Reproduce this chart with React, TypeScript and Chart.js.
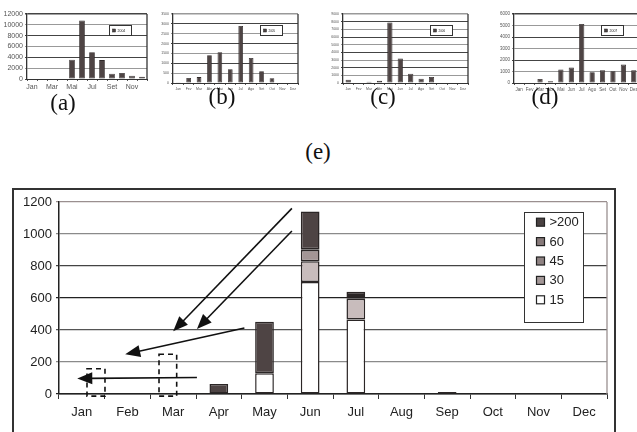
import React, { useEffect, useRef } from "react";
import { Chart, registerables } from "chart.js";
Chart.register(...registerables);

// ---------- data ----------
const MONTHS_EN = ["Jan", "Feb", "Mar", "Apr", "May", "Jun", "Jul", "Aug", "Sep", "Oct", "Nov", "Dec"];
const MONTHS_PT = ["Jan", "Fev", "Mar", "Abr", "Mai", "Jun", "Jul", "Ago", "Set", "Out", "Nov", "Dez"];

const Y2004 = [0, 0, 0, 0, 3550, 10800, 4960, 3490, 980, 1100, 610, 430];
const Y2005 = [35, 250, 300, 1410, 1560, 700, 2890, 1270, 600, 240, 0, 0];
const Y2006 = [430, 0, 170, 300, 7900, 3200, 1200, 570, 780, 0, 0, 0];
const Y2007 = [0, 0, 350, 150, 1170, 1340, 5130, 930, 1100, 1020, 1600, 1100];

const SERIES_LABELS = ["15", "30", "45", "60", ">200"];
const S15 = [0, 0, 0, 0, 130, 700, 465, 0, 0, 0, 0, 0];
const S30 = [0, 0, 0, 0, 0, 130, 130, 0, 0, 0, 0, 0];
const S45 = [0, 0, 0, 0, 0, 70, 10, 0, 0, 0, 0, 0];
const S60 = [0, 0, 0, 0, 0, 5, 14, 0, 0, 0, 0, 0];
const S200 = [0, 0, 0, 62, 322, 235, 20, 0, 12, 0, 0, 0];
const MAIN_SERIES = [S15, S30, S45, S60, S200];

// annotation arrows / dashed boxes in data units (x = month index, y = value)
const ARROWS = [
  { from: [4.6, 1160], to: [2.0, 392] },
  { from: [4.6, 1019], to: [2.52, 406] },
  { from: [3.56, 412], to: [0.95, 248] },
  { from: [2.52, 103], to: [-0.1, 97] },
];
const DASH_BOXES = [
  { x0: 0.113, x1: 0.507, y0: -13, y1: 158 },
  { x0: 1.69, x1: 2.077, y0: -13, y1: 248 },
];

// ---------- styles ----------
const SANS = "'Liberation Sans', Arial, sans-serif";
const BAR_COLORS = ["#ffffff", "#c8bcbc", "#a39595", "#8a7d7d", "#4e4444"];
const LEGEND_COLORS = ["#ffffff", "#a39797", "#8f8383", "#877a7a", "#4a4242"];
const MAIN_GRID = ["#222222", "#8a8a8a", "#555555", "#222222", "#444444", "#8a8a8a", "#9a8f8f"];

// ---------- plugins ----------
const framePlugin = {
  id: "frame",
  beforeDatasetsDraw(chart: any, _a: any, opts: any) {
    if (!opts || !opts.color) return;
    const { ctx, chartArea } = chart;
    ctx.save();
    ctx.strokeStyle = opts.color;
    ctx.lineWidth = opts.width || 1;
    ctx.beginPath();
    ctx.moveTo(chartArea.right, chartArea.top);
    ctx.lineTo(chartArea.right, chartArea.bottom);
    ctx.stroke();
    ctx.restore();
  },
};

const boxLegendPlugin = {
  id: "boxLegend",
  afterDraw(chart: any, _a: any, o: any) {
    if (!o || !o.show) return;
    const { ctx, chartArea } = chart;
    const x = Math.round(chartArea.right - o.right - o.width) + 0.5;
    const y = Math.round(chartArea.top + o.top) + 0.5;
    ctx.save();
    ctx.fillStyle = "#ffffff";
    ctx.fillRect(x, y, o.width, o.height);
    ctx.strokeStyle = o.border;
    ctx.lineWidth = o.lineWidth;
    ctx.strokeRect(x, y, o.width, o.height);
    const items = chart.data.datasets
      .map((ds: any, i: number) => ({ label: ds.label, color: o.colors ? o.colors[i] : ds.backgroundColor }))
      .reverse();
    items.forEach((it: any, i: number) => {
      const cy = y + o.firstRow + i * o.rowH;
      ctx.fillStyle = it.color;
      ctx.fillRect(x + o.swX, cy - o.sw / 2, o.sw, o.sw);
      ctx.strokeStyle = "#222";
      ctx.lineWidth = o.swLine;
      ctx.strokeRect(x + o.swX, cy - o.sw / 2, o.sw, o.sw);
      ctx.fillStyle = "#222";
      ctx.font = o.font;
      ctx.textBaseline = "middle";
      ctx.textAlign = "left";
      ctx.fillText(it.label, x + o.textX, cy + 0.5);
    });
    ctx.restore();
  },
};

const annotPlugin = {
  id: "annot",
  afterDraw(chart: any, _a: any, o: any) {
    if (!o || !o.show) return;
    const { ctx } = chart;
    const xs = chart.scales.x;
    const ys = chart.scales.y;
    const px = (v: number) => xs.getPixelForValue(v);
    const py = (v: number) => ys.getPixelForValue(v);
    ctx.save();
    ctx.strokeStyle = "#111";
    ctx.fillStyle = "#111";
    ctx.lineWidth = 1.6;
    ARROWS.forEach((a) => {
      const x0 = px(a.from[0]), y0 = py(a.from[1]);
      const x1 = px(a.to[0]), y1 = py(a.to[1]);
      const ang = Math.atan2(y1 - y0, x1 - x0);
      const L = 15, W = 6;
      const bx = x1 - L * Math.cos(ang), by = y1 - L * Math.sin(ang);
      ctx.beginPath();
      ctx.moveTo(x0, y0);
      ctx.lineTo(bx + 2 * Math.cos(ang), by + 2 * Math.sin(ang));
      ctx.stroke();
      ctx.beginPath();
      ctx.moveTo(x1, y1);
      ctx.lineTo(bx - W * Math.sin(ang), by + W * Math.cos(ang));
      ctx.lineTo(bx + W * Math.sin(ang), by - W * Math.cos(ang));
      ctx.closePath();
      ctx.fill();
    });
    ctx.setLineDash([5, 4]);
    ctx.lineWidth = 1.6;
    DASH_BOXES.forEach((b) => {
      const x0 = px(b.x0), x1 = px(b.x1), y0 = py(b.y0), y1 = py(b.y1);
      ctx.strokeRect(x0, y1, x1 - x0, y0 - y1);
    });
    ctx.restore();
  },
};

// ---------- chart hook ----------
function useChart(ref: React.RefObject<HTMLCanvasElement>, make: () => any) {
  useEffect(() => {
    if (!ref.current) return;
    const chart = new Chart(ref.current, make());
    return () => chart.destroy();
  }, []);
}

type SmallProps = {
  left: number; top: number; w: number; h: number;
  yW: number; padTop: number; padRight: number; xH: number;
  data: number[]; labels: string[]; max: number; step: number;
  yFont: number; xFont: number; legendText: string; everyOther?: boolean;
  barPct: number; legFont: number;
};

function SmallChart(p: SmallProps) {
  const ref = useRef<HTMLCanvasElement>(null);
  useChart(ref, () => ({
    type: "bar",
    data: {
      labels: p.labels,
      datasets: [
        {
          label: p.legendText,
          data: p.data,
          backgroundColor: "#4e4444",
          borderColor: "#2e2828",
          borderWidth: 0.8,
          borderSkipped: false,
          barPercentage: p.barPct,
          categoryPercentage: 1,
        },
      ],
    },
    options: {
      responsive: false,
      animation: false,
      layout: { padding: { left: 0, top: p.padTop, right: p.padRight, bottom: 0 } },
      plugins: {
        legend: { display: false },
        tooltip: { enabled: false },
        frame: { color: "#333", width: 1.3 },
        boxLegend: {
          show: true, right: 16, top: 11, width: 22, height: 10, firstRow: 5, rowH: 0,
          swX: 3, sw: 3, swLine: 0.5, textX: 8, font: `${p.legFont}px ${SANS}`, border: "#333", lineWidth: 1,
        },
      },
      scales: {
        x: {
          grid: { drawOnChartArea: false, tickLength: 2, color: "#555" },
          border: { color: "#333", width: 1 },
          ticks: {
            font: { size: p.xFont, family: SANS },
            color: "#555",
            padding: 2,
            maxRotation: 0,
            autoSkip: false,
            callback: function (this: any, v: any, i: number) {
              if (p.everyOther && i % 2 === 1) return "";
              return this.getLabelForValue(v);
            },
          },
          afterFit: (s: any) => { s.height = p.xH; },
        },
        y: {
          min: 0,
          max: p.max,
          ticks: {
            stepSize: p.step,
            autoSkip: false,
            font: { size: p.yFont, family: SANS },
            color: "#555",
            padding: 2,
            callback: (v: any) => String(v),
          },
          grid: {
            tickLength: 2,
            color: (c: any) => (c.index % 2 === 0 ? "#444" : "#999"),
            lineWidth: (c: any) => (c.tick && c.tick.value === p.max ? 1.6 : 1),
          },
          border: { color: "#333", width: 1.3 },
          afterFit: (s: any) => { s.width = p.yW; },
        },
      },
    },
    plugins: [framePlugin, boxLegendPlugin],
  }));
  return (
    <canvas
      ref={ref}
      width={p.w}
      height={p.h}
      style={{ position: "absolute", left: p.left, top: p.top, width: p.w, height: p.h }}
    />
  );
}

function MainChart() {
  const ref = useRef<HTMLCanvasElement>(null);
  useChart(ref, () => ({
    type: "bar",
    data: {
      labels: MONTHS_EN,
      datasets: MAIN_SERIES.map((s, i) => ({
        label: SERIES_LABELS[i],
        data: s,
        backgroundColor: BAR_COLORS[i],
        borderColor: "#2b2626",
        borderWidth: 1.5,
        borderSkipped: false,
        barPercentage: 0.41,
        categoryPercentage: 1,
      })),
    },
    options: {
      responsive: false,
      animation: false,
      layout: { padding: { left: 0, top: 12, right: 7, bottom: 0 } },
      plugins: {
        legend: { display: false },
        tooltip: { enabled: false },
        frame: { color: "#9a9090", width: 1.3 },
        annot: { show: true },
        boxLegend: {
          show: true, right: 24, top: 10, width: 59, height: 110, firstRow: 9.7, rowH: 19.4,
          swX: 12, sw: 8, swLine: 1.2, textX: 25, font: `13px ${SANS}`, border: "#333", lineWidth: 1,
          colors: LEGEND_COLORS,
        },
      },
      scales: {
        x: {
          stacked: true,
          grid: { drawOnChartArea: false, tickLength: 5, color: "#333" },
          border: { color: "#222", width: 1.5 },
          ticks: { font: { size: 13, family: SANS }, color: "#222", padding: 6, maxRotation: 0, autoSkip: false },
          afterFit: (s: any) => { s.height = 40; },
        },
        y: {
          stacked: true,
          min: 0,
          max: 1200,
          ticks: {
            stepSize: 200,
            font: { size: 13, family: SANS },
            color: "#222",
            padding: 4,
            callback: (v: any) => String(v),
          },
          grid: {
            tickLength: 3,
            color: (c: any) => MAIN_GRID[c.index] || "#777",
            lineWidth: 1.2,
          },
          border: { color: "#222", width: 1.5 },
          afterFit: (s: any) => { s.width = 45; },
        },
      },
    },
    plugins: [framePlugin, annotPlugin, boxLegendPlugin],
  }));
  return (
    <canvas
      ref={ref}
      width={600}
      height={244}
      style={{ position: "absolute", left: 14, top: 190, width: 600, height: 244 }}
    />
  );
}

const capStyle = (x: number, y: number): React.CSSProperties => ({
  position: "absolute",
  left: x,
  top: y,
  transform: "translate(-50%, -50%)",
  fontFamily: "'Liberation Serif', 'Times New Roman', serif",
  fontSize: 23,
  color: "#111",
  whiteSpace: "nowrap",
});

export default function App() {
  return (
    <div
      style={{
        position: "absolute",
        left: 0,
        top: 0,
        width: 637,
        height: 432,
        overflow: "hidden",
        background: "#ffffff",
      }}
    >
      <SmallChart left={0} top={0} w={152} h={96} yW={27} padTop={14} padRight={5} xH={17}
        data={Y2004} labels={MONTHS_PT} max={12000} step={2000} yFont={7} xFont={7}
        legendText="2004" everyOther barPct={0.57} legFont={3.5} />
      <SmallChart left={158} top={0} w={145} h={92} yW={15} padTop={14} padRight={5} xH={9}
        data={Y2005} labels={MONTHS_PT} max={3500} step={500} yFont={3.5} xFont={3.5}
        legendText="2005" barPct={0.45} legFont={3} />
      <SmallChart left={318} top={0} w={155} h={92} yW={25} padTop={14} padRight={5} xH={9}
        data={Y2006} labels={MONTHS_PT} max={9000} step={1000} yFont={3.5} xFont={3.5}
        legendText="2006" barPct={0.5} legFont={3} />
      <SmallChart left={490} top={0} w={155} h={92} yW={24} padTop={14} padRight={6} xH={9}
        data={Y2007} labels={MONTHS_PT} max={6000} step={1000} yFont={4.5} xFont={4.5}
        legendText="2007" barPct={0.5} legFont={3.5} />

      <div style={capStyle(63, 103)}>(a)</div>
      <div style={capStyle(222, 97)}>(b)</div>
      <div style={capStyle(383, 97)}>(c)</div>
      <div style={capStyle(545, 97)}>(d)</div>
      <div style={capStyle(318, 152)}>(e)</div>

      <div
        style={{
          position: "absolute",
          left: 12,
          top: 188,
          width: 600,
          height: 260,
          border: "2px solid #333",
        }}
      />
      <MainChart />
    </div>
  );
}
